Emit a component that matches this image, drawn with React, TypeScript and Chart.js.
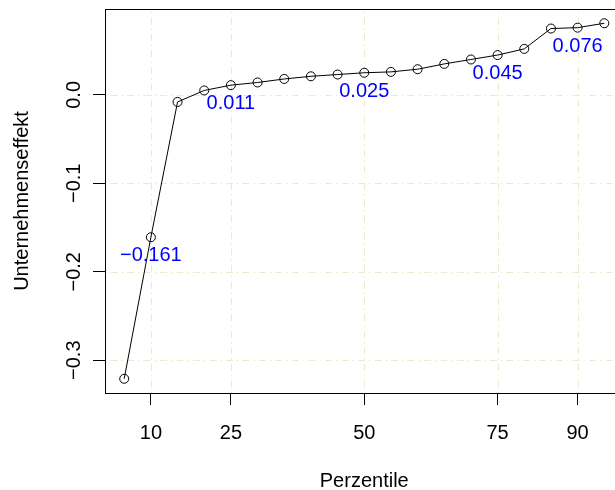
import React, { useEffect, useRef } from "react";
import { Chart, registerables } from "chart.js";

Chart.register(...registerables);

const percentiles = [5, 10, 15, 20, 25, 30, 35, 40, 45, 50, 55, 60, 65, 70, 75, 80, 85, 90, 95];
const effects = [-0.321, -0.161, -0.008, 0.005, 0.011, 0.014, 0.018, 0.021, 0.023, 0.025, 0.026, 0.029, 0.035, 0.040, 0.045, 0.052, 0.075, 0.076, 0.081];
const xTicks = [10, 25, 50, 75, 90];
const yTicks = [-0.3, -0.2, -0.1, 0.0];
const yTickLabels = ["\u22120.3", "\u22120.2", "\u22120.1", "0.0"];
const labelPercentiles = [10, 25, 50, 75, 90];
const labelTexts = ["\u22120.161", "0.011", "0.025", "0.045", "0.076"];

const FONT = '20px "Liberation Sans", Arial, Helvetica, sans-serif';
const GRID = "#EEE8D0";
const GRID_DASH = [1.5, 4, 7, 4];

export default function App() {
  const ref = useRef<HTMLCanvasElement | null>(null);

  useEffect(() => {
    const canvas = ref.current;
    if (!canvas) return;

    const gridPlugin = {
      id: "rgrid",
      beforeDatasetsDraw(chart: any) {
        const ctx = chart.ctx;
        const a = chart.chartArea;
        const xs = chart.scales.x;
        const ys = chart.scales.y;
        ctx.save();
        ctx.strokeStyle = GRID;
        ctx.lineWidth = 1;
        ctx.setLineDash(GRID_DASH);
        xTicks.forEach((v) => {
          const x = Math.round(xs.getPixelForValue(v)) + 0.5;
          ctx.beginPath();
          ctx.moveTo(x, a.bottom);
          ctx.lineTo(x, a.top);
          ctx.stroke();
        });
        yTicks.forEach((v) => {
          const y = Math.round(ys.getPixelForValue(v)) + 0.5;
          ctx.beginPath();
          ctx.moveTo(a.left, y);
          ctx.lineTo(a.right, y);
          ctx.stroke();
        });
        ctx.restore();
      },
    };

    const textPlugin = {
      id: "rtext",
      afterDraw(chart: any) {
        const ctx = chart.ctx;
        const a = chart.chartArea;
        const xs = chart.scales.x;
        const ys = chart.scales.y;
        ctx.save();
        // box
        ctx.strokeStyle = "#000";
        ctx.lineWidth = 1;
        ctx.setLineDash([]);
        ctx.strokeRect(Math.round(a.left) + 0.5, Math.round(a.top) + 0.5, Math.round(a.right - a.left), Math.round(a.bottom - a.top));
        ctx.font = FONT;
        ctx.fillStyle = "#000";
        // x tick labels
        ctx.textAlign = "center";
        ctx.textBaseline = "alphabetic";
        xTicks.forEach((v) => {
          ctx.fillText(String(v), xs.getPixelForValue(v), 438.5);
        });
        // x title
        ctx.fillText("Perzentile", (a.left + a.right) / 2, 487);
        // y tick labels (rotated)
        yTicks.forEach((v, i) => {
          ctx.save();
          ctx.translate(80, ys.getPixelForValue(v));
          ctx.rotate(-Math.PI / 2);
          ctx.textAlign = "center";
          ctx.fillText(yTickLabels[i], 0, 0);
          ctx.restore();
        });
        // y title
        ctx.save();
        ctx.translate(28, (a.top + a.bottom) / 2);
        ctx.rotate(-Math.PI / 2);
        ctx.textAlign = "center";
        ctx.fillText("Unternehmenseffekt", 0, 0);
        ctx.restore();
        // data labels
        ctx.fillStyle = "#0000FF";
        ctx.textAlign = "center";
        labelPercentiles.forEach((p, i) => {
          const idx = percentiles.indexOf(p);
          const px = xs.getPixelForValue(p);
          const py = ys.getPixelForValue(effects[idx]);
          ctx.fillText(labelTexts[i], px, py + 24);
        });
        ctx.restore();
      },
    };

    const gridOpts = {
      color: "rgba(0,0,0,0)",
      lineWidth: 1,
      drawTicks: true,
      tickLength: 12,
      tickColor: "#000",
      tickWidth: 1,
      tickBorderDash: [],
    };

    const chart = new Chart(canvas, {
      type: "line",
      data: {
        datasets: [
          {
            data: percentiles.map((p, i) => ({ x: p, y: effects[i] })),
            borderColor: "#000",
            borderWidth: 1,
            backgroundColor: "rgba(0,0,0,0)",
            pointRadius: 4.5,
            pointBorderWidth: 1,
            pointBorderColor: "#000",
            pointBackgroundColor: "rgba(0,0,0,0)",
            tension: 0,
            fill: false,
          },
        ],
      },
      options: {
        responsive: false,
        animation: false,
        devicePixelRatio: 1,
        layout: { padding: { top: 9, right: 16.5, left: 0, bottom: 0 } },
        plugins: { legend: { display: false }, tooltip: { enabled: false } },
        scales: {
          x: {
            type: "linear",
            min: 1.4,
            max: 98.6,
            afterBuildTicks: (s: any) => {
              s.ticks = xTicks.map((v) => ({ value: v }));
            },
            afterFit: (s: any) => {
              s.height = 97;
            },
            ticks: { display: false },
            border: { display: false },
            grid: gridOpts,
          },
          y: {
            type: "linear",
            min: -0.3371,
            max: 0.0971,
            afterBuildTicks: (s: any) => {
              s.ticks = yTicks.map((v) => ({ value: v }));
            },
            afterFit: (s: any) => {
              s.width = 105;
            },
            ticks: { display: false },
            border: { display: false },
            grid: gridOpts,
          },
        },
      },
      plugins: [gridPlugin, textPlugin],
    } as any);

    return () => chart.destroy();
  }, []);

  return (
    <div style={{ position: "fixed", left: 0, top: 0, width: 615, height: 490, overflow: "hidden", background: "#fff" }}>
      <canvas ref={ref} width={640} height={490} style={{ display: "block", width: 640, height: 490 }} />
    </div>
  );
}
